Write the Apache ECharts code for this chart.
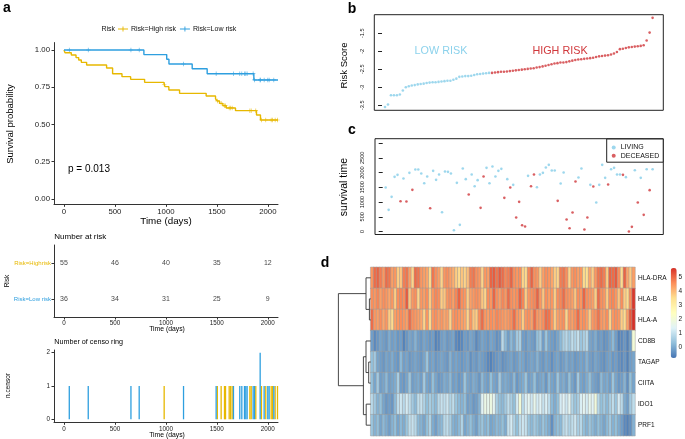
<!DOCTYPE html>
<html><head><meta charset="utf-8">
<script src="https://cdn.jsdelivr.net/npm/echarts@6/dist/echarts.min.js"></script>
<style>html,body{margin:0;padding:0;background:#fff}#c{width:685px;height:439px}</style>
</head><body><div id="c"></div>
<script>
// ---------------- DATA ----------------
// Panel a: Kaplan-Meier step curves (time in days, survival after the step)
const kmHighTime = [0,10,72,118,144,170,222,418,477,569,654,791,980,990,1029,1134,1395,1487,1503,1526,1559,1592,1683,1889,1928,2100];
const kmHighSurv = [1,0.982,0.966,0.949,0.933,0.917,0.899,0.879,0.841,0.821,0.803,0.783,0.770,0.754,0.732,0.709,0.691,0.673,0.658,0.642,0.626,0.611,0.593,0.564,0.530,0.530];
const kmLowTime = [0,784,1008,1030,1258,1405,1863,2100];
const kmLowSurv = [1,0.969,0.938,0.906,0.874,0.841,0.799,0.799];
// censored times
const censHigh = [983,1505,1542,1575,1585,1621,1634,1650,1824,1837,1882,1938,1980,2033,2046,2072,2095];
const censLow = [52,238,657,738,1173,1493,1663,1725,1745,1771,1784,1797,1856,1869,1925,1925,1964,2000,2013,2059];
// number at risk table
const riskTimes = [0,500,1000,1500,2000];
const riskHigh = [55,46,40,35,12];
const riskLow = [36,34,31,25,9];
const pValueText = 'p = 0.013';

// Panel b: risk scores, ordered
const scoreLow = [-3.55,-3.48,-3.22,-3.22,-3.22,-3.20,-3.09,-3.00,-2.97,-2.95,-2.94,-2.92,-2.91,-2.90,-2.88,-2.87,-2.86,-2.86,-2.85,-2.84,-2.83,-2.82,-2.82,-2.79,-2.76,-2.71,-2.70,-2.69,-2.69,-2.68,-2.66,-2.64,-2.63,-2.62,-2.61,-2.60];
const scoreHigh = [-2.60,-2.59,-2.58,-2.57,-2.57,-2.56,-2.55,-2.54,-2.53,-2.52,-2.51,-2.50,-2.49,-2.48,-2.47,-2.45,-2.44,-2.42,-2.40,-2.38,-2.36,-2.34,-2.33,-2.31,-2.31,-2.30,-2.28,-2.26,-2.24,-2.23,-2.22,-2.21,-2.20,-2.19,-2.18,-2.16,-2.14,-2.13,-2.12,-2.11,-2.09,-2.06,-2.02,-1.94,-1.93,-1.91,-1.89,-1.88,-1.87,-1.86,-1.85,-1.83,-1.70,-1.48,-1.07];

// Panel c: survival time per patient (same order), status 1 = deceased
const survTime = [1494,736,1177,1856,1924,1030,1799,1019,1992,1415,2105,2105,1969,1641,1867,793,2060,1754,1935,657,2037,2026,1969,46,1652,227,2139,1777,1257,1935,1539,1743,804,1867,2161,1641,2207,1867,2060,2127,1143,1777,1494,1585,476,1008,216,171,1890,1539,1935,1505,1935,1992,2173,2263,2071,2071,1042,1630,2003,408,114,646,1698,1833,2139,69,476,1585,1528,985,1585,2263,1822,1596,2116,2161,1935,1935,1924,1845,1,159,2082,985,1822,567,2116,1404,2116];
const survStatus = [0,0,0,0,0,1,0,1,0,1,0,0,0,0,0,1,0,0,0,0,0,0,0,0,0,0,0,0,1,0,0,0,1,1,0,0,0,0,0,0,1,0,1,0,1,1,1,1,0,1,1,0,0,0,0,0,0,0,1,0,0,1,1,1,1,0,0,1,1,0,1,0,0,0,0,1,0,0,0,0,1,0,1,1,0,1,0,1,0,1,0];

// Panel d: heatmap expression
const genes = ['HLA-DRA','HLA-B','HLA-A','CD8B','TAGAP','CIITA','IDO1','PRF1'];
const exprHLA_DRA = [4.5,5.0,5.1,4.8,4.5,5.0,4.9,4.4,4.5,3.8,3.9,4.8,4.9,4.4,3.7,5.0,4.9,4.5,4.4,4.3,3.6,4.9,4.6,4.4,3.7,4.5,4.6,4.4,4.2,3.8,3.6,3.9,3.7,4.0,4.8,4.9,4.6,4.5,3.7,4.5,4.4,5.1,5.2,4.9,5.2,5.0,4.7,
 4.8,5.1,4.6,4.5,4.6,3.7,3.6,4.7,5.1,4.6,4.5,3.8,4.4,4.6,4.5,4.3,3.8,3.7,4.8,4.9,4.6,3.7,4.5,4.6,4.4,4.5,3.6,3.5,4.3,3.8,4.5,4.9,5.0,4.8,3.8,5.1,5.0,5.2,4.6,3.6,5.1,4.3,3.8,4.4];
const exprHLA_B = [4.6,4.5,4.7,4.4,4.6,4.5,4.3,4.5,3.8,4.6,4.7,4.6,5.2,3.9,4.5,4.6,3.7,4.5,4.4,4.6,3.8,4.5,4.7,4.6,3.8,3.9,4.5,4.6,4.4,4.7,5.1,4.6,4.5,3.8,4.4,4.5,4.6,4.5,3.9,3.7,4.6,4.5,5.1,4.6,4.4,4.7,4.5,
 5.0,4.6,4.5,4.6,5.1,4.7,3.8,4.5,4.6,4.7,5.1,4.5,3.9,4.6,4.4,4.5,3.8,4.6,4.7,5.0,4.6,4.5,4.4,3.9,4.6,4.5,5.1,4.6,4.5,4.4,3.8,5.0,4.6,4.5,3.8,4.6,4.7,4.5,3.9,4.6,3.8,3.6,4.6,5.6];
const exprHLA_A = [5.0,4.5,4.4,4.6,4.3,4.5,3.8,3.6,4.4,4.5,4.6,4.5,4.4,5.0,4.6,4.5,4.4,4.3,3.7,4.5,3.6,4.5,4.6,4.4,4.5,4.3,4.4,3.7,4.5,4.6,4.5,4.4,4.3,3.7,4.5,3.9,3.8,4.6,5.0,4.5,4.4,4.6,4.5,4.7,4.6,4.5,4.4,
 4.5,4.6,5.0,4.5,4.4,3.8,4.5,4.6,4.4,5.0,4.5,4.4,4.6,5.0,4.9,4.5,3.8,4.4,4.5,4.6,3.7,4.5,4.4,4.6,5.0,4.5,4.6,4.4,3.8,4.5,4.6,4.9,4.5,4.4,4.6,3.7,4.5,4.6,4.5,3.8,3.6,4.4,5.2,5.7];
const exprCD8B = [-0.2,-0.5,-0.3,-0.1,-0.2,-0.3,0.0,-0.2,-0.1,-0.3,-0.2,-0.6,-0.3,-0.1,-0.2,0.1,-0.2,-0.3,-0.1,-0.2,-0.3,-0.2,-0.6,-0.5,-0.2,-0.1,-0.3,-0.2,-0.1,-0.5,-0.6,-0.5,-0.2,-0.3,-0.1,-0.2,-0.5,-0.3,-0.1,-0.2,-0.3,-0.1,-0.2,-0.4,-0.3,0.8,0.2,
 -0.2,0.2,-0.1,0.5,0.6,-0.2,-0.3,-0.1,-0.2,-0.3,0.3,0.5,-0.2,0.4,-0.1,-0.2,-0.3,-0.1,0.2,0.6,0.8,0.5,0.9,0.7,1.0,0.4,0.6,0.8,-0.1,-0.2,0.0,-0.3,-0.2,-0.4,-0.3,-0.1,0.2,-0.2,-0.6,-0.5,-0.3,-0.6,-0.2,2.0];
const exprTAGAP = [0.3,0.5,-0.1,-0.2,-0.3,-0.1,-0.2,0.0,-0.2,-0.3,0.2,-0.2,-0.1,-0.3,-0.2,-0.1,-0.2,-0.3,-0.1,0.4,-0.2,-0.1,-0.3,-0.2,-0.1,-0.2,-0.3,0.1,-0.2,-0.1,-0.2,-0.3,-0.2,-0.1,-0.4,-0.2,-0.3,-0.1,-0.2,-0.3,-0.5,-0.6,-0.4,-0.3,-0.2,-0.4,-0.3,
 -0.2,-0.1,-0.3,-0.2,0.0,-0.1,-0.3,-0.2,-0.1,-0.2,0.1,-0.2,-0.3,-0.1,-0.2,-0.4,-0.2,-0.1,-0.3,-0.2,0.0,-0.2,-0.1,-0.3,-0.2,-0.1,-0.2,0.1,-0.2,-0.3,-0.1,-0.2,-0.3,-0.4,-0.2,-0.1,-0.3,-0.2,-0.4,-0.5,-0.3,-0.6,-0.2,-0.1];
const exprCIITA = [0.3,-0.1,0.5,-0.2,-0.1,0.2,-0.2,-0.1,0.0,0.6,-0.2,-0.3,-0.1,0.4,-0.2,-0.1,0.0,-0.2,0.5,-0.1,-0.2,0.3,-0.1,-0.3,-0.2,0.0,-0.1,0.2,-0.2,-0.1,-0.3,-0.2,0.4,-0.1,-0.2,0.0,-0.1,-0.3,0.2,-0.1,-0.2,0.3,-0.1,-0.2,0.5,-0.1,0.0,
 -0.1,-0.2,0.2,-0.3,-0.1,0.0,0.4,-0.2,-0.1,0.3,-0.2,-0.1,0.0,-0.3,0.2,-0.1,-0.2,0.4,-0.1,0.0,-0.2,0.3,-0.1,-0.3,0.5,-0.1,-0.2,0.0,0.3,-0.1,-0.2,-0.3,0.2,-0.1,0.0,-0.2,0.4,-0.1,-0.3,-0.2,0.1,-0.4,0.3,-0.1];
const exprIDO1 = [0.8,0.5,0.1,0.3,-0.1,-0.3,-0.2,-0.3,0.2,0.9,1.1,0.8,1.2,0.9,0.5,0.2,0.9,1.0,0.7,0.3,0.6,0.4,0.2,0.8,1.0,0.9,1.1,0.7,0.9,0.4,0.2,0.1,0.3,-0.2,-0.1,-0.3,-0.2,0.1,1.4,1.7,1.6,1.8,1.5,0.6,0.3,0.2,0.5,
 0.9,0.6,0.3,1.2,2.0,0.8,1.3,1.5,1.1,1.6,1.2,1.4,1.0,1.3,0.9,0.2,0.0,0.3,1.2,1.4,1.1,1.5,0.7,0.4,0.6,1.3,1.5,1.2,1.6,1.4,1.9,0.8,0.3,0.5,0.2,0.6,0.9,0.4,1.2,0.8,0.0,-0.2,0.5,0.9];
const exprPRF1 = [0.4,0.1,0.3,-0.1,0.2,0.0,-0.2,0.1,0.3,-0.1,0.2,0.0,0.4,0.9,1.0,0.8,0.2,0.1,-0.1,0.3,0.7,0.0,-0.2,0.1,0.2,0.8,0.9,0.6,0.1,0.0,0.2,0.7,-0.1,0.1,0.3,0.0,-0.2,0.2,0.4,0.1,0.3,-0.1,0.0,0.2,0.1,0.3,0.0,
 1.0,1.2,0.7,0.3,0.9,1.1,1.0,0.4,0.2,0.5,0.3,0.1,0.4,0.2,0.0,-0.4,0.1,0.3,0.2,0.8,1.0,0.7,0.9,1.1,0.6,0.8,0.3,0.1,0.4,0.2,0.0,0.3,0.1,-0.1,0.2,0.5,0.1,0.3,0.0,-0.2,-0.5,-0.6,-0.4,0.1];
const colorbarTicks = [0,1,2,3,4,5];
// row dendrogram (hclust style: negative = leaf row index+1, positive = merge number)
const dendroMerge = [[-2,-3],[-1,1],[-5,-6],[-4,3],[-7,-8],[4,5],[2,6]];
const dendroHeight = [1.3,4.7,2.0,4.7,4.5,7.3,32.3];

// ---------------- BUILD ----------------
const FF = 'Liberation Sans, Arial, Helvetica, sans-serif';
const YEL = '#E7B800', BLU = '#2E9FDF';
const LBLUE = '#84CDE8', RED = '#D0373B';
const PAL = ['#4575B4','#91BFDB','#E0F3F8','#FFFFBF','#FEE090','#FC8D59','#D73027'];

function survAt(T, S, t){ let s = S[0]; for (let i=0;i<T.length;i++){ if (T[i] <= t) s = S[i]; else break; } return s; }
function countBy(arr){ const m = {}; arr.forEach(t => { m[t] = (m[t]||0)+1; }); return Object.keys(m).map(k => [Number(k), m[k]]); }
const plusPath = 'path://M-0.45,-3H0.45V-0.45H3V0.45H0.45V3H-0.45V0.45H-3V-0.45H-0.45Z';

const exprRows = [exprHLA_DRA,exprHLA_B,exprHLA_A,exprCD8B,exprTAGAP,exprCIITA,exprIDO1,exprPRF1];
const heatData = [];
exprRows.forEach((row, r) => row.forEach((v, c) => heatData.push([c, r, v])));
const nCols = exprHLA_DRA.length;

// dendrogram links
const nodeY = [], nodeH = [];
const dendroLines = [];
function childPos(k){ return k < 0 ? [0, -k - 0.5] : [nodeH[k-1], nodeY[k-1]]; }
dendroMerge.forEach((m, i) => {
  const a = childPos(m[0]), b = childPos(m[1]), h = dendroHeight[i];
  dendroLines.push({coords: [[a[0], a[1]], [h, a[1]], [h, b[1]], [b[0], b[1]]]});
  nodeY.push((a[1] + b[1]) / 2); nodeH.push(h);
});

const xTicksKM = [0,500,1000,1500,2000];
const axC = '#333';
const plain = v => String(v);
function kmX(gi, fs){ return {gridIndex: gi, type:'value', min:-98, max:2100,
  axisLine:{show:true, onZero:false, lineStyle:{color:axC, width:1}},
  axisTick:{show:true, length:2.5, customValues:xTicksKM, lineStyle:{color:axC}},
  axisLabel:{customValues:xTicksKM, formatter:plain, fontSize:fs, color:'#222', margin:3.5, fontFamily:FF},
  splitLine:{show:false}}; }
function hid(gi, extra){ return Object.assign({gridIndex: gi, type:'value', show:false, splitLine:{show:false}}, extra||{}); }
function T(text, x, y, size, o){ o = o||{};
  return {type:'text', x:x, y:y, rotation:o.rot||0, z:100,
    style:{text:text, fill:o.color||'#000', font:(o.bold?'bold ':'') + size + 'px ' + FF,
      align:o.align||'center', verticalAlign:'middle'}}; }

const option = {
  animation:false,
  textStyle:{fontFamily:FF},
  grid:[
    {left:54, right:407, top:42.55, bottom:234.65},
    {left:54, right:407, top:245, bottom:122},
    {left:54, right:407, top:350, bottom:16.7},
    {left:374.3, right:21.7, top:14.7, bottom:328.7, show:true, borderColor:'#222', borderWidth:1},
    {left:375, right:21.7, top:138.7, bottom:204.5, show:true, borderColor:'#222', borderWidth:1},
    {left:370.7, right:50, top:267.3, bottom:3.3},
    {left:338.3, right:314.3, top:267.3, bottom:3.3},
    {left:670.7, right:8.3, top:268, bottom:81}
  ],
  xAxis:[
    kmX(0, 7.8), kmX(1, 6.3), kmX(2, 6.3),
    hid(3, {min:-2.6, max:94.6}),
    hid(4, {min:-2.6, max:94.6}),
    {gridIndex:5, type:'category', show:false, data: Array.from({length:nCols}, (_, i) => i + 1)},
    hid(6, {min:0, max:32.4, inverse:true}),
    hid(7, {min:0, max:1})
  ],
  yAxis:[
    {gridIndex:0, type:'value', min:-0.036, max:1.05,
      axisLine:{show:true, onZero:false, lineStyle:{color:axC}},
      axisTick:{show:true, length:2.5, customValues:[0,0.25,0.5,0.75,1], lineStyle:{color:axC}},
      axisLabel:{customValues:[0,0.25,0.5,0.75,1], formatter:v => v.toFixed(2), fontSize:7.8, color:'#222', margin:4},
      splitLine:{show:false}},
    {gridIndex:1, type:'category', inverse:true, data:['Risk=Highrisk','Risk=Low risk'],
      axisLine:{show:true, onZero:false, lineStyle:{color:axC}},
      axisTick:{show:true, length:2.5, alignWithLabel:true, lineStyle:{color:axC}},
      axisLabel:{fontSize:6, margin:3, color: v => (v.indexOf('High') >= 0 ? YEL : BLU)}},
    {gridIndex:2, type:'value', min:-0.09, max:2.08,
      axisLine:{show:true, onZero:false, lineStyle:{color:axC}},
      axisTick:{show:true, length:2.5, customValues:[0,1,2], lineStyle:{color:axC}},
      axisLabel:{customValues:[0,1,2], fontSize:6.3, color:'#222', margin:4},
      splitLine:{show:false}},
    {gridIndex:3, type:'value', min:-3.64, max:-0.983,
      axisLine:{show:false},
      axisTick:{show:true, length:4, customValues:[-3.5,-3,-2.5,-2,-1.5], lineStyle:{color:'#222'}},
      axisLabel:{customValues:[-3.5,-3,-2.5,-2,-1.5], formatter:plain, rotate:90, fontSize:5.6, color:'#111', margin:9},
      splitLine:{show:false}},
    {gridIndex:4, type:'value', min:-100, max:3150,
      axisLine:{show:false},
      axisTick:{show:true, length:4, customValues:[0,500,1000,1500,2000,2500,3000], lineStyle:{color:'#222'}},
      axisLabel:{customValues:[0,500,1000,1500,2000,2500], formatter:plain, rotate:90, fontSize:5.6, color:'#111', margin:9.5, hideOverlap:false},
      splitLine:{show:false}},
    {gridIndex:5, type:'category', inverse:true, position:'right', data:genes,
      axisLine:{show:false}, axisTick:{show:false},
      axisLabel:{fontSize:6.5, color:'#111', margin:3}},
    hid(6, {min:0, max:8, inverse:true}),
    {gridIndex:7, type:'value', min:-0.8, max:5.7, position:'right',
      axisLine:{show:false}, axisTick:{show:false}, splitLine:{show:false},
      axisLabel:{customValues:colorbarTicks, fontSize:6.5, color:'#222', margin:5}}
  ],
  visualMap:[{type:'continuous', seriesIndex:12, dimension:2, min:-0.8, max:5.7,
    calculable:false, realtime:false, itemWidth:6, itemHeight:90, left:670.7, top:268, padding:0,
    text:null, showLabel:false, inRange:{color:PAL}, orient:'vertical'}],
  legend:[
    {data:['Risk=High risk','Risk=Low risk'], left:118, top:25.5, padding:0, itemWidth:10, itemHeight:7, itemGap:4,
      selectedMode:false, icon:'path://M0,3.6H10V4.4H0Z M4.55,1.5H5.45V6.5H4.55Z',
      textStyle:{fontSize:7, color:'#111', padding:[0,0,0,-2]}},
    {data:['LIVING','DECEASED'], left:606.7, top:139, orient:'vertical', itemWidth:4, itemHeight:4, itemGap:1.2,
      selectedMode:false, icon:'circle', padding:[5,4,3,5], borderColor:'#222', borderWidth:1, backgroundColor:'#fff',
      borderRadius:0, textStyle:{fontSize:7, color:'#111'}, z:20}
  ],
  series:[
    {name:'Risk=High risk', type:'line', xAxisIndex:0, yAxisIndex:0, step:'end', showSymbol:false, color:YEL,
      lineStyle:{color:YEL, width:1.4}, data: kmHighTime.map((t, i) => [t, kmHighSurv[i]])},
    {name:'Risk=Low risk', type:'line', xAxisIndex:0, yAxisIndex:0, step:'end', showSymbol:false, color:BLU,
      lineStyle:{color:BLU, width:1.4}, data: kmLowTime.map((t, i) => [t, kmLowSurv[i]])},
    {name:'censHighMarks', type:'scatter', xAxisIndex:0, yAxisIndex:0, symbol:plusPath, symbolSize:4.5,
      itemStyle:{color:YEL}, data: censHigh.map(t => [t, survAt(kmHighTime, kmHighSurv, t)])},
    {name:'censLowMarks', type:'scatter', xAxisIndex:0, yAxisIndex:0, symbol:plusPath, symbolSize:4.5,
      itemStyle:{color:BLU}, data: censLow.map(t => [t, survAt(kmLowTime, kmLowSurv, t)])},
    {name:'riskHigh', type:'scatter', xAxisIndex:1, yAxisIndex:1, symbolSize:1, itemStyle:{color:'rgba(0,0,0,0)'},
      label:{show:true, position:'inside', formatter:p => p.value[2], fontSize:7, color:'#111'},
      data: riskTimes.map((t, i) => [t, 0, riskHigh[i]])},
    {name:'riskLow', type:'scatter', xAxisIndex:1, yAxisIndex:1, symbolSize:1, itemStyle:{color:'rgba(0,0,0,0)'},
      label:{show:true, position:'inside', formatter:p => p.value[2], fontSize:7, color:'#111'},
      data: riskTimes.map((t, i) => [t, 1, riskLow[i]])},
    {name:'barHigh', type:'bar', xAxisIndex:2, yAxisIndex:2, barWidth:1.3, barGap:'-100%', itemStyle:{color:YEL},
      data: countBy(censHigh)},
    {name:'barLow', type:'bar', xAxisIndex:2, yAxisIndex:2, barWidth:1.3, barGap:'-100%', itemStyle:{color:BLU},
      data: countBy(censLow)},
    {name:'scoreLow', type:'scatter', xAxisIndex:3, yAxisIndex:3, symbolSize:2.6, clip:false, itemStyle:{color:LBLUE},
      data: scoreLow.map((v, i) => [i + 1, v])},
    {name:'scoreHigh', type:'scatter', xAxisIndex:3, yAxisIndex:3, symbolSize:2.6, clip:false, itemStyle:{color:RED},
      data: scoreHigh.map((v, i) => [scoreLow.length + i + 1, v])},
    {name:'LIVING', type:'scatter', xAxisIndex:4, yAxisIndex:4, symbolSize:2.6, itemStyle:{color:LBLUE},
      data: survTime.map((v, i) => survStatus[i] === 0 ? [i + 1, v] : null).filter(Boolean)},
    {name:'DECEASED', type:'scatter', xAxisIndex:4, yAxisIndex:4, symbolSize:2.6, itemStyle:{color:RED},
      data: survTime.map((v, i) => survStatus[i] === 1 ? [i + 1, v] : null).filter(Boolean)},
    {name:'heat', type:'heatmap', xAxisIndex:5, yAxisIndex:5, data:heatData,
      itemStyle:{borderColor:'#9a9a9a', borderWidth:0.5}, emphasis:{disabled:true}},
    {name:'dendro', type:'lines', coordinateSystem:'cartesian2d', xAxisIndex:6, yAxisIndex:6, polyline:true,
      lineStyle:{color:'#333', width:0.9, opacity:1}, data:dendroLines}
  ],
  graphic:[
    T('a', 7, 8, 14, {bold:true, align:'center'}),
    T('b', 352, 9, 14, {bold:true}),
    T('c', 352, 130, 14, {bold:true}),
    T('d', 325, 263.5, 14, {bold:true}),
    T('Risk', 101.5, 29, 7, {align:'left', color:'#111'}),
    T('Survival probability', 10, 124, 9.5, {rot:Math.PI/2}),
    T('Time (days)', 166, 221, 9.8),
    T(pValueText, 68, 169, 10, {align:'left'}),
    T('Number at risk', 54.3, 236.7, 8, {align:'left'}),
    T('Risk', 7.3, 281, 6.5, {rot:Math.PI/2}),
    T('Time (days)', 167, 329.5, 6.8),
    T('Number of censo ring', 54.3, 342.3, 7.2, {align:'left'}),
    T('n.censor', 8.3, 385.5, 6.5, {rot:Math.PI/2}),
    T('Time (days)', 167, 435, 6.8),
    T('Risk Score', 344.5, 65.5, 9.5, {rot:Math.PI/2}),
    T('survival time', 344.5, 187, 10.5, {rot:Math.PI/2}),
    T('LOW RISK', 441, 51.3, 10.8, {color:'#8CD2EC'}),
    T('HIGH RISK', 560, 51.3, 10.8, {color:RED})
  ]
};
const chart = echarts.init(document.getElementById('c'), null, {renderer:'canvas', width:685, height:439});
chart.setOption(option);
</script>
</body></html>
